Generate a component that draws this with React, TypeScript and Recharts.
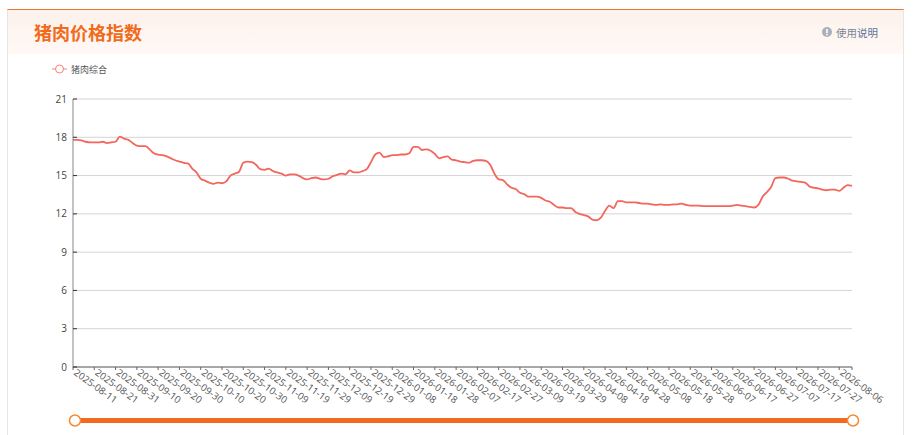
import React from "react";
import { LineChart, Line, XAxis, YAxis, CartesianGrid, Legend, Brush } from "recharts";

const startDate = "2025-08-11";
const yTicks = [0, 3, 6, 9, 12, 15, 18, 21];

// the labelled ticks, ten days apart
const dateTicks = [
    "2025-08-11", "2025-08-21", "2025-08-31", "2025-09-10", "2025-09-20", "2025-09-30",
    "2025-10-10", "2025-10-20", "2025-10-30", "2025-11-09", "2025-11-19", "2025-11-29",
    "2025-12-09", "2025-12-19", "2025-12-29", "2026-01-08", "2026-01-18", "2026-01-28",
    "2026-02-07", "2026-02-17", "2026-02-27", "2026-03-09", "2026-03-19", "2026-03-29",
    "2026-04-08", "2026-04-18", "2026-04-28", "2026-05-08", "2026-05-18", "2026-05-28",
    "2026-06-07", "2026-06-17", "2026-06-27", "2026-07-07", "2026-07-17", "2026-07-27",
    "2026-08-06",
];
// axis ends on a tick with no label
const lastDate = "2026-08-12";

// index values, one every two days
const porkIndex = [
    17.8, 17.8, 17.75, 17.65, 17.6, 17.6, 17.6, 17.65, 17.55, 17.6,
    17.65, 18.05, 17.9, 17.8, 17.55, 17.35, 17.3, 17.3, 17.05, 16.75,
    16.65, 16.6, 16.5, 16.35, 16.2, 16.1, 16.0, 15.95, 15.55, 15.25,
    14.75, 14.6, 14.45, 14.35, 14.45, 14.4, 14.55, 15.0, 15.15, 15.3, 16.0,
    16.1, 16.05, 15.85, 15.5, 15.45, 15.55, 15.35, 15.25, 15.15, 15.0,
    15.1, 15.1, 15.0, 14.8, 14.7, 14.8, 14.85, 14.75, 14.7, 14.75,
    14.95, 15.05, 15.15, 15.1, 15.4, 15.25, 15.25, 15.35, 15.5, 16.05,
    16.65, 16.8, 16.45, 16.5, 16.6, 16.6, 16.65, 16.65, 16.75, 17.25,
    17.25, 17.0, 17.05, 16.95, 16.7, 16.35, 16.45, 16.5, 16.25, 16.2,
    16.1, 16.05, 16.0, 16.15, 16.2, 16.2, 16.15, 15.85, 15.15, 14.7, 14.65,
    14.3, 14.05, 13.95, 13.65, 13.55, 13.35, 13.35, 13.35, 13.25, 13.05,
    12.95, 12.7, 12.5, 12.5, 12.45, 12.45, 12.15, 12.0, 11.9, 11.8,
    11.55, 11.5, 11.7, 12.25, 12.65, 12.45, 13.0, 13.0, 12.9, 12.9,
    12.9, 12.85, 12.8, 12.8, 12.75, 12.7, 12.75, 12.7, 12.7, 12.75,
    12.75, 12.8, 12.7, 12.65, 12.65, 12.65, 12.6, 12.6, 12.6, 12.6,
    12.6, 12.6, 12.6, 12.65, 12.7, 12.65, 12.6, 12.55, 12.5, 12.7, 13.35,
    13.7, 14.1, 14.8, 14.85, 14.85, 14.75, 14.6, 14.55, 14.5, 14.45,
    14.15, 14.05, 14.0, 13.9, 13.85, 13.9, 13.9, 13.8, 14.05, 14.25,
    14.2,
];

const dateAt = (i: number) => {
    const d = new Date(startDate + "T00:00:00Z");
    d.setUTCDate(d.getUTCDate() + i * 2);
    return d.toISOString().slice(0, 10);
};

const chartData = porkIndex.map((value, i) => ({ date: dateAt(i), value }));

const cjk = '"Noto Sans CJK SC", sans-serif';

function LegendContent() {
    return (
        <div style={{ display: "flex", alignItems: "center", height: 14, fontFamily: cjk, fontSize: 9, color: "#555" }}>
            <svg width={15} height={10} style={{ marginRight: 4 }}>
                <line x1={0} y1={5} x2={15} y2={5} stroke="#f4827a" strokeWidth={1} />
                <circle cx={7.5} cy={5} r={4} fill="#fff" stroke="#f4827a" strokeWidth={1} />
            </svg>
            猪肉综合
        </div>
    );
}

function Handle(props: any) {
    const { x, y, width, height } = props;
    return (
        <circle cx={x + width / 2} cy={y + height / 2} r={5.5} fill="#fff" stroke="#f58a35" strokeWidth={1.5} />
    );
}

function DateTick(props: any) {
    const { x, y, payload } = props;
    if (payload.value === lastDate) return <g />;
    const tx = x;
    const ty = y + 3;
    return (
        <text
            x={tx}
            y={ty}
            transform={`rotate(36 ${tx} ${ty})`}
            fontSize={9.7}
            fontFamily="'Open Sans', sans-serif"
            fill="#555"
        >
            {payload.value}
        </text>
    );
}

export default function App() {
    return (
        <div style={{ position: "absolute", left: 0, top: 0, width: 914, height: 435, background: "#fff", overflow: "hidden" }}>
            <div
                style={{
                    position: "absolute", left: 7, top: 9, width: 897, height: 426, boxSizing: "border-box",
                    borderTop: "1px solid #ee7430", borderLeft: "1px solid #e6e6e6", borderRight: "1px solid #e6e6e6",
                }}
            />
            <div
                style={{
                    position: "absolute", left: 8, top: 10, width: 895, height: 44,
                    background: "linear-gradient(#fdf2ec, #fff8f5)",
                }}
            />
            <div style={{ position: "absolute", left: 34, top: 19, fontFamily: cjk, fontSize: 18, fontWeight: 700, lineHeight: "26px", color: "#f26a1b" }}>
                猪肉价格指数
            </div>
            <div style={{ position: "absolute", left: 822, top: 24, display: "flex", alignItems: "center", height: 16, fontFamily: cjk, fontSize: 10.5, color: "#7d8594" }}>
                <svg width={10} height={10} style={{ marginRight: 4 }}>
                    <circle cx={5} cy={5} r={5} fill="#abb0ba" />
                    <rect x={4.2} y={2} width={1.6} height={4} fill="#fff" />
                    <rect x={4.2} y={6.8} width={1.6} height={1.5} fill="#fff" />
                </svg>
                使用<span style={{ color: "#5a7399" }}>说明</span>
            </div>
            <div style={{ position: "absolute", left: 0, top: 0 }}>
                <LineChart
                    width={914}
                    height={435}
                    data={chartData}
                    margin={{ top: 99, right: 62, left: 33, bottom: 53 }}
                >
                    <CartesianGrid vertical={false} stroke="#d4d4d4" />
                    <XAxis
                        dataKey="date"
                        ticks={[...dateTicks, lastDate]}
                        interval={0}
                        tickSize={3}
                        tickMargin={1}
                        height={10}
                        stroke="#666"
                        tick={<DateTick />}
                    />
                    <YAxis
                        width={40}
                        domain={[0, 21]}
                        ticks={yTicks}
                        interval={0}
                        tickSize={-4}
                        tickMargin={10}
                        stroke="#888"
                        tickLine={{ stroke: "#333" }}
                        tick={{ fontSize: 10, fontFamily: "'Open Sans', sans-serif", fill: "#444" }}
                    />
                    <Legend
                        layout="horizontal"
                        verticalAlign="middle"
                        align="center"
                        content={<LegendContent />}
                        wrapperStyle={{ left: 52, top: 62, width: 70, height: 14 }}
                    />
                    <Line
                        type="monotone"
                        dataKey="value"
                        name="猪肉综合"
                        stroke="#f4655c"
                        strokeWidth={1.8}
                        dot={false}
                        isAnimationActive={false}
                    />
                    <Brush
                        dataKey="date"
                        x={70}
                        y={418}
                        width={788}
                        height={5}
                        travellerWidth={10}
                        fill="#f26a1b"
                        stroke="none"
                        traveller={(p: any) => <Handle {...p} />}
                    />
                </LineChart>
            </div>
        </div>
    );
}
